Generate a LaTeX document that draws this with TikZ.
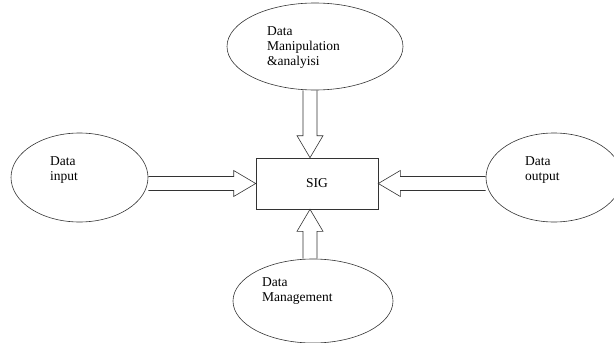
\documentclass[tikz,border=0pt]{standalone}
\usepackage{fontspec}
\setmainfont{Liberation Serif}
\usetikzlibrary{shapes.geometric, calc}

% hollow block arrow from #1 (tail) to #2 (tip)
\newcommand{\blockarrow}[2]{%
  \coordinate (hb) at ($(#2)!22pt!(#1)$);
  \draw[blockline] ($(#1)!7pt!90:(#2)$) -- ($(hb)!7pt!-90:(#1)$) -- ($(hb)!13pt!-90:(#1)$) -- (#2)
    -- ($(hb)!13pt!90:(#1)$) -- ($(hb)!7pt!90:(#1)$) -- ($(#1)!7pt!-90:(#2)$);
}

\begin{document}
\begin{tikzpicture}[x=1pt, y=-1pt,
    blob/.style={draw=black!80, line width=0.6pt, ellipse, inner sep=0pt},
    lbl/.style={align=left, anchor=west, inner sep=0pt, font=\fontsize{13.5}{15}\selectfont},
    blockline/.style={draw=black!80, line width=0.6pt, line join=miter}]
\useasboundingbox (0,0) rectangle (614,343);

% ellipses
\node[blob, minimum width=176pt, minimum height=87pt] (top) at (315,46.5) {};
\node[blob, minimum width=137pt, minimum height=89pt] (in) at (79.5,177.5) {};
\node[blob, minimum width=136pt, minimum height=89pt] (out) at (554,177.5) {};
\node[blob, minimum width=160pt, minimum height=84pt] (bot) at (313,301) {};
\node[lbl] (toptxt) at (267,48) {Data\\Manipulation\\\&analyisi};
\node[lbl] (intxt) at (50,170) {Data\\input};
\node[lbl] (outtxt) at (525,170) {Data\\output};
\node[lbl] (bottxt) at (262,291) {Data\\Management};

% centre box
\node[draw=black!80, line width=0.6pt, minimum width=122pt, minimum height=51pt,
      font=\fontsize{13.5}{15}\selectfont] (sig) at (317,183.5) {SIG};

\coordinate (tN) at ([xshift=-7pt]sig.north);
\coordinate (tS) at ([xshift=-7pt]sig.south);
\coordinate (aN) at (tN |- top.south);
\coordinate (aS) at (tS |- bot.north);
\coordinate (aW) at (sig.west -| in.east);
\coordinate (aE) at (sig.east -| out.west);

\foreach \a/\b in {aN/tN, aS/tS, aW/sig.west, aE/sig.east}
  \blockarrow{\a}{\b};
\end{tikzpicture}
\end{document}
